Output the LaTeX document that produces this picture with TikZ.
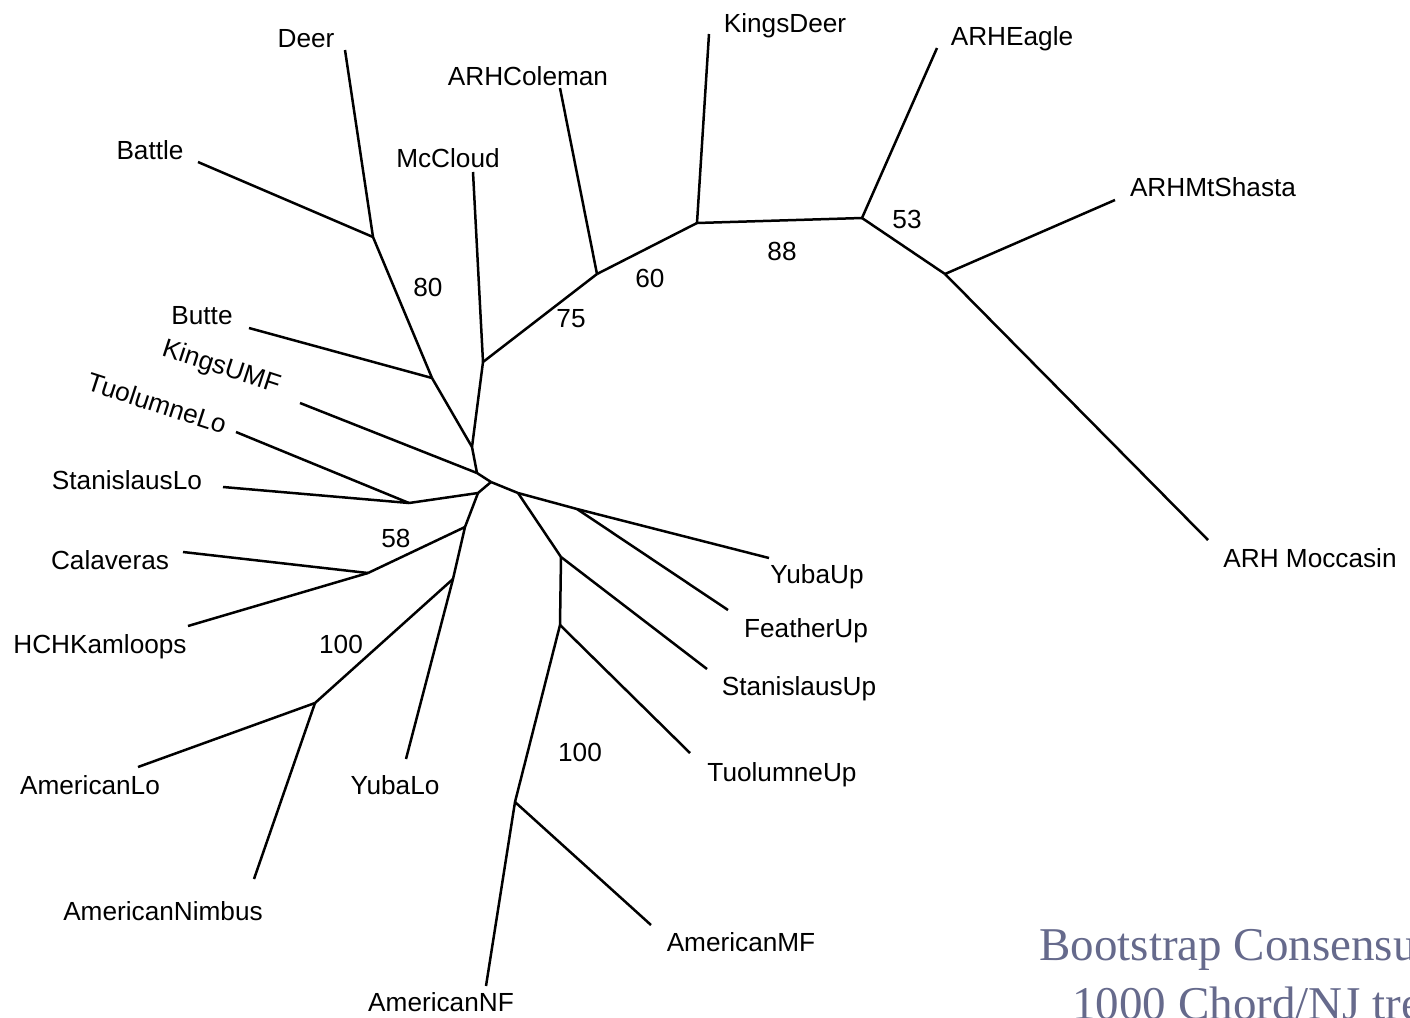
\documentclass[tikz,border=0pt]{standalone}
\usepackage{fontspec}
\setmainfont{Liberation Sans}
\newfontfamily\titlefont{Liberation Serif}
\definecolor{titlecol}{RGB}{102,106,140}
\begin{document}
\begin{tikzpicture}[x=0.5pt,y=-0.5pt,
  branch/.style={line width=1.25pt,line join=round},
  leaflabel/.style={anchor=base,inner sep=0pt,font=\fontsize{13.1pt}{15pt}\selectfont},
  rotlabel/.style={anchor=center,inner sep=0pt,font=\fontsize{13.1pt}{15pt}\selectfont,rotate=-18},
  support/.style={anchor=base,inner sep=0pt,font=\fontsize{13.1pt}{15pt}\selectfont},
  titletext/.style={anchor=base west,inner sep=0pt,text=titlecol,font=\titlefont\fontsize{23.5pt}{28pt}\selectfont}]
\useasboundingbox (0,0) rectangle (1410,1018);
\clip (0,0) rectangle (1410,1018);
% internal nodes
\coordinate (A) at (477,473);
\coordinate (B) at (491,482);
\coordinate (C) at (478,493);
\coordinate (D) at (518,493);
\coordinate (E) at (465,527);
\coordinate (F) at (453,579);
\coordinate (G) at (577,509);
\coordinate (H) at (561,557);
\coordinate (I) at (560,625);
\coordinate (J) at (515,802);
\coordinate (K) at (409,503);
\coordinate (L) at (368,573);
\coordinate (M) at (315,703);
\coordinate (X) at (472,447);
\coordinate (N) at (432,378);
\coordinate (O) at (373,237);
\coordinate (P) at (483,362);
\coordinate (Q) at (597,274);
\coordinate (R) at (697,223);
\coordinate (S) at (862,218);
\coordinate (T) at (945,274);
% leaf ends
\coordinate (deer) at (345,50);
\coordinate (battle) at (198,162);
\coordinate (butte) at (249,328);
\coordinate (mccloud) at (473,172);
\coordinate (coleman) at (560,88);
\coordinate (kingsdeer) at (709,34);
\coordinate (eagle) at (937,48);
\coordinate (shasta) at (1115,200);
\coordinate (moccasin) at (1208,540);
\coordinate (kingsumf) at (300,403);
\coordinate (tuollo) at (236,432);
\coordinate (stanlo) at (223,487);
\coordinate (calaveras) at (183,552);
\coordinate (hch) at (188,626);
\coordinate (amlo) at (138,767);
\coordinate (nimbus) at (254,879);
\coordinate (yubalo) at (406,759);
\coordinate (amnf) at (486,986);
\coordinate (ammf) at (651,925);
\coordinate (tuolup) at (690,753);
\coordinate (stanup) at (707,669);
\coordinate (featherup) at (728,610);
\coordinate (yubaup) at (769,558);
% branches
\draw[branch] (X) -- (N);
\draw[branch] (X) -- (P);
\draw[branch] (X) -- (A);
\draw[branch] (A) -- (kingsumf);
\draw[branch] (A) -- (B);
\draw[branch] (B) -- (C);
\draw[branch] (B) -- (D);
\draw[branch] (C) -- (K);
\draw[branch] (C) -- (E);
\draw[branch] (K) -- (tuollo);
\draw[branch] (K) -- (stanlo);
\draw[branch] (E) -- (L);
\draw[branch] (E) -- (F);
\draw[branch] (L) -- (calaveras);
\draw[branch] (L) -- (hch);
\draw[branch] (F) -- (M);
\draw[branch] (F) -- (yubalo);
\draw[branch] (M) -- (amlo);
\draw[branch] (M) -- (nimbus);
\draw[branch] (D) -- (G);
\draw[branch] (D) -- (H);
\draw[branch] (G) -- (yubaup);
\draw[branch] (G) -- (featherup);
\draw[branch] (H) -- (stanup);
\draw[branch] (H) -- (I);
\draw[branch] (I) -- (tuolup);
\draw[branch] (I) -- (J);
\draw[branch] (J) -- (ammf);
\draw[branch] (J) -- (amnf);
\draw[branch] (N) -- (butte);
\draw[branch] (N) -- (O);
\draw[branch] (O) -- (battle);
\draw[branch] (O) -- (deer);
\draw[branch] (P) -- (mccloud);
\draw[branch] (P) -- (Q);
\draw[branch] (Q) -- (coleman);
\draw[branch] (Q) -- (R);
\draw[branch] (R) -- (kingsdeer);
\draw[branch] (R) -- (S);
\draw[branch] (S) -- (eagle);
\draw[branch] (S) -- (T);
\draw[branch] (T) -- (shasta);
\draw[branch] (T) -- (moccasin);
% leaf labels
\node[leaflabel] (lDeer) at (306,47) {Deer};
\node[leaflabel] (lBattle) at (150,159) {Battle};
\node[leaflabel] (lMcCloud) at (448,167) {McCloud};
\node[leaflabel] (lColeman) at (528,85) {ARHColeman};
\node[leaflabel] (lKingsDeer) at (785,32) {KingsDeer};
\node[leaflabel] (lEagle) at (1012,45) {ARHEagle};
\node[leaflabel] (lShasta) at (1213,196) {ARHMtShasta};
\node[leaflabel] (lMoccasin) at (1310,567) {ARH Moccasin};
\node[leaflabel] (lButte) at (202,324) {Butte};
\node[rotlabel] (lKingsUMF) at (221,368) {KingsUMF};
\node[rotlabel] (lTuolLo) at (157,403) {TuolumneLo};
\node[leaflabel] (lStanLo) at (127,489) {StanislausLo};
\node[leaflabel] (lCalaveras) at (110,569) {Calaveras};
\node[leaflabel] (lHCH) at (100,653) {HCHKamloops};
\node[leaflabel] (lAmLo) at (90,794) {AmericanLo};
\node[leaflabel] (lYubaLo) at (395,794) {YubaLo};
\node[leaflabel] (lNimbus) at (163,920) {AmericanNimbus};
\node[leaflabel] (lAmNF) at (441,1011) {AmericanNF};
\node[leaflabel] (lAmMF) at (741,951) {AmericanMF};
\node[leaflabel] (lTuolUp) at (782,781) {TuolumneUp};
\node[leaflabel] (lStanUp) at (799,695) {StanislausUp};
\node[leaflabel] (lFeatherUp) at (806,637) {FeatherUp};
\node[leaflabel] (lYubaUp) at (817,583) {YubaUp};
% support values
\node[support] (s80) at (428,296) {80};
\node[support] (s75) at (571,327) {75};
\node[support] (s60) at (650,287) {60};
\node[support] (s88) at (782,260) {88};
\node[support] (s53) at (907,228) {53};
\node[support] (s58) at (396,547) {58};
\node[support] (s100a) at (341,653) {100};
\node[support] (s100b) at (580,761) {100};
% title
\node[titletext] (title1) at (1039,960) {Bootstrap Consensus};
\node[titletext] (title2) at (1072,1019) {1000 Chord/NJ trees};
\end{tikzpicture}
\end{document}
